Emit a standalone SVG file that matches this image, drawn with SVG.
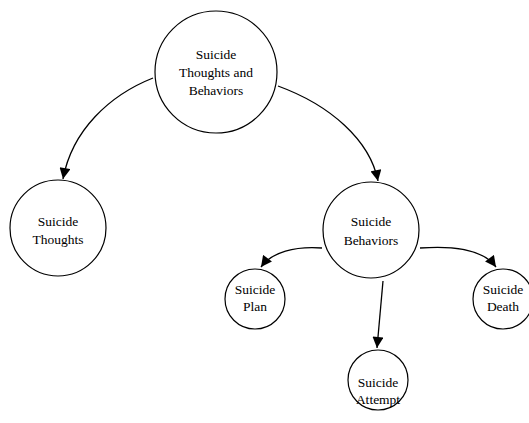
<svg xmlns="http://www.w3.org/2000/svg" width="529" height="423" viewBox="0 0 529 423">
<style>
.n{fill:#fff;stroke:#000;stroke-width:1.2}
.t{font-family:"Liberation Serif",serif;font-size:13.5px;fill:#000;text-anchor:middle}
.e{fill:none;stroke:#000;stroke-width:1.3}
</style>
<defs>
<marker id="a" viewBox="0 0 10 10" refX="10" refY="5" markerWidth="12" markerHeight="11" markerUnits="userSpaceOnUse" orient="auto">
<path d="M0,0 L10,5 L0,10 Z" fill="#000"/>
</marker>
</defs>
<rect width="529" height="423" fill="#fff"/>
<g id="edges">
<path class="e" d="M153,78 C110,95 72,130 63,179" marker-end="url(#a)"/>
<path class="e" d="M278,86 C330,105 370,140 378,181" marker-end="url(#a)"/>
<path class="e" d="M322,248 C295,246 272,252 261,267" marker-end="url(#a)"/>
<path class="e" d="M420,248 C460,245 485,252 496,267" marker-end="url(#a)"/>
<path class="e" d="M383,281 L377,348" marker-end="url(#a)"/>
</g>
<g id="n1"><circle class="n" cx="216" cy="72" r="61"/>
<text class="t" x="216" y="59">Suicide</text><text class="t" x="216" y="77">Thoughts and</text><text class="t" x="216" y="95">Behaviors</text></g>
<g id="n2"><circle class="n" cx="58" cy="228" r="48"/>
<text class="t" x="58" y="226">Suicide</text><text class="t" x="58" y="244">Thoughts</text></g>
<g id="n3"><circle class="n" cx="371" cy="230" r="48"/>
<text class="t" x="371" y="226">Suicide</text><text class="t" x="371" y="245">Behaviors</text></g>
<g id="n4"><circle class="n" cx="255" cy="299" r="30"/>
<text class="t" x="255" y="294">Suicide</text><text class="t" x="255" y="311">Plan</text></g>
<g id="n5"><circle class="n" cx="378" cy="380" r="30"/>
<text class="t" x="378" y="387">Suicide</text><text class="t" x="378" y="404">Attempt</text></g>
<g id="n6"><circle class="n" cx="503" cy="299" r="30"/>
<text class="t" x="503" y="294">Suicide</text><text class="t" x="503" y="311">Death</text></g>
</svg>
